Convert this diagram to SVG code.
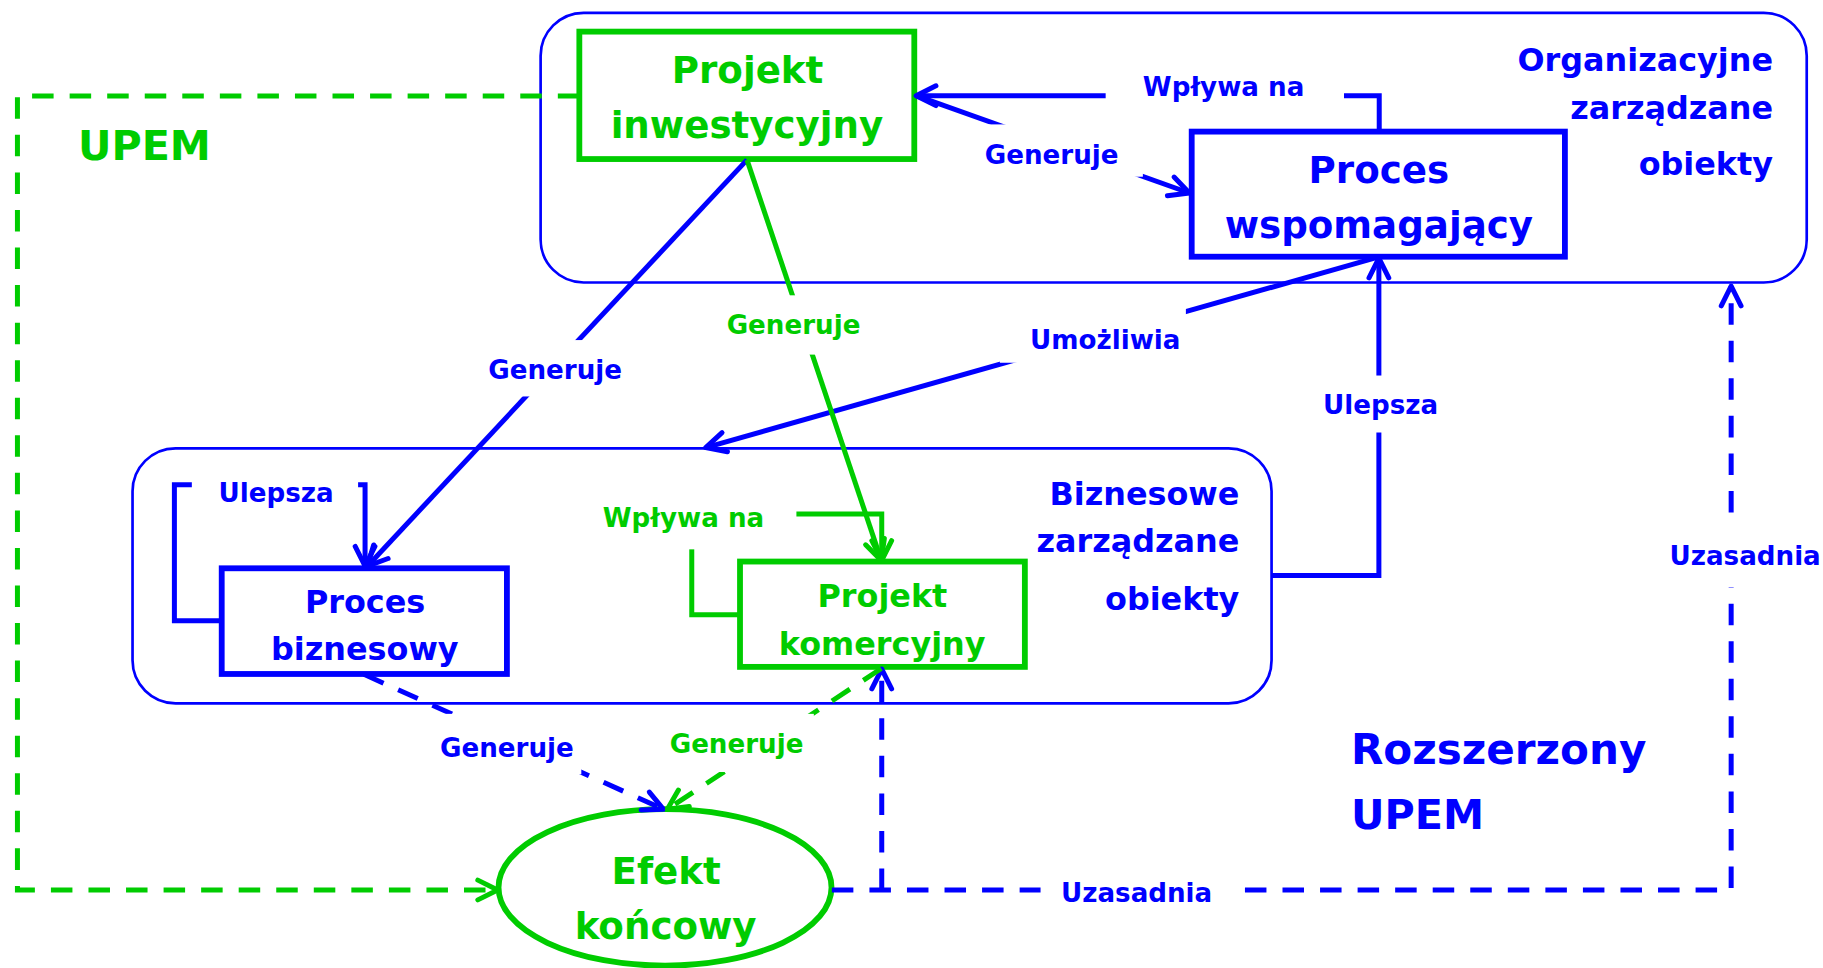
<svg xmlns="http://www.w3.org/2000/svg" width="1823" height="968" viewBox="0 0 1823 968">
<style>
text{font-family:"DejaVu Sans",Verdana,sans-serif;font-weight:bold}
.tb{fill:#0000FF}.tg{fill:#00CC00}
.big{font-size:32px}.mid{font-size:27.4px}.lab{font-size:22.5px}.ttl{font-size:35.5px}
.cont{fill:none;stroke:#0000FF;stroke-width:2.3}
.node{fill:#fff;stroke-width:5}
.b{stroke:#0000FF}.g{stroke:#00CC00}
.conn{fill:none;stroke-width:4.3}
.dash{stroke-dasharray:18.5 13.8}
.bg{fill:#fff}
</style>
<defs>
<marker id="ab" markerUnits="userSpaceOnUse" viewBox="-24 -13 28 26" refX="0" refY="0" markerWidth="28" markerHeight="26" orient="auto" overflow="visible">
<path d="M-17,-8.5 L0,0 L-17,8.5" fill="none" stroke="#0000FF" stroke-width="4.3" stroke-dasharray="none" stroke-linecap="round" stroke-linejoin="round"/>
</marker>
<marker id="ag" markerUnits="userSpaceOnUse" viewBox="-24 -13 28 26" refX="0" refY="0" markerWidth="28" markerHeight="26" orient="auto" overflow="visible">
<path d="M-17,-8.5 L0,0 L-17,8.5" fill="none" stroke="#00CC00" stroke-width="4.3" stroke-dasharray="none" stroke-linecap="round" stroke-linejoin="round"/>
</marker>
</defs>
<rect width="1823" height="968" fill="#fff"/>
<g transform="scale(1.16263)">
<g id="c-organizacyjne">
<rect class="cont" x="465" y="11" width="1089" height="232" rx="37" ry="37"/>
<text class="tb mid" text-anchor="end" x="1525" y="61">Organizacyjne</text>
<text class="tb mid" text-anchor="end" x="1525" y="102">zarządzane</text>
<text class="tb mid" text-anchor="end" x="1525" y="150.5">obiekty</text>
</g>
<g id="c-biznesowe">
<rect class="cont" x="114" y="385.6" width="979.7" height="219.4" rx="37" ry="37"/>
<text class="tb mid" text-anchor="end" x="1066" y="434">Biznesowe</text>
<text class="tb mid" text-anchor="end" x="1066" y="475">zarządzane</text>
<text class="tb mid" text-anchor="end" x="1066" y="525">obiekty</text>
</g>
<g id="t-upem">
<text class="tg ttl" x="67" y="137.5">UPEM</text>
</g>
<g id="t-rozszerzony-upem">
<text class="tb ttl" x="1162" y="657" style="font-size:36.2px">Rozszerzony</text>
<text class="tb ttl" x="1162" y="713">UPEM</text>
</g>
<g id="n-projekt-inwestycyjny">
<rect class="node g" x="498.3" y="27.2" width="288.1" height="109.6"/>
<text class="tg big" text-anchor="middle" x="643" y="71">Projekt</text>
<text class="tg big" text-anchor="middle" x="642.5" y="119">inwestycyjny</text>
</g>
<g id="n-proces-wspomagajacy">
<rect class="node b" x="1025" y="113.2" width="321" height="107.6"/>
<text class="tb big" text-anchor="middle" x="1186" y="157">Proces</text>
<text class="tb big" text-anchor="middle" x="1186" y="205">wspomagający</text>
</g>
<g id="n-proces-biznesowy">
<rect class="node b" x="190.7" y="488.8" width="245.3" height="90.9"/>
<text class="tb mid" text-anchor="middle" x="314" y="527.5">Proces</text>
<text class="tb mid" text-anchor="middle" x="313.8" y="568">biznesowy</text>
</g>
<g id="n-projekt-komercyjny">
<rect class="node g" x="636.5" y="483" width="245" height="90.6"/>
<text class="tg mid" text-anchor="middle" x="759" y="522.4">Projekt</text>
<text class="tg mid" text-anchor="middle" x="758.8" y="563">komercyjny</text>
</g>
<g id="n-efekt-koncowy">
<ellipse class="node g" cx="572" cy="763.3" rx="143.2" ry="67.3"/>
<text class="tg big" text-anchor="middle" x="573" y="760">Efekt</text>
<text class="tg big" text-anchor="middle" x="572.5" y="808">końcowy</text>
</g>
<g id="connectors">
<path class="conn b" d="M1186.3,113.2 V82.3 H788" marker-end="url(#ab)"/>
<path class="conn b" d="M788,82.3 L1023,166" marker-end="url(#ab)"/>
<path class="conn b" d="M642.5,137.5 L316,487" marker-end="url(#ab)"/>
<path class="conn b" d="M1186,221 L607,385" marker-end="url(#ab)"/>
<path class="conn b" d="M1093.7,495 H1186 V222" marker-end="url(#ab)"/>
<path class="conn b" d="M190.7,534 H150 V417 H314 V487" marker-end="url(#ab)"/>
<path class="conn g" d="M642.5,137.5 L758,482" marker-end="url(#ag)"/>
<path class="conn g" d="M636.5,528.7 H595 V442 H758.4 V482" marker-end="url(#ag)"/>
<path class="conn b dash" d="M313,580 L570.5,696" marker-end="url(#ab)"/>
<path class="conn b dash" d="M715.5,765.5 H1489 V246" marker-end="url(#ab)"/>
<path class="conn b dash" d="M758.4,765.5 V575.5" marker-end="url(#ab)"/>
<path class="conn g dash" d="M758,575 L574,696" marker-end="url(#ag)"/>
<path class="conn g dash" d="M498.3,82.5 H15 V765.5 H428" marker-end="url(#ag)"/>
<g id="connector-labels">
<rect class="bg" x="951" y="60" width="205" height="45"/>
<text class="tb lab" x="983" y="83">Wpływa na</text>
<rect class="bg" x="845" y="107" width="138" height="45"/>
<text class="tb lab" x="847" y="141">Generuje</text>
<rect class="bg" x="615" y="254" width="135" height="51"/>
<text class="tg lab" x="625" y="287">Generuje</text>
<rect class="bg" x="405" y="292.5" width="145" height="48.5"/>
<text class="tb lab" x="420" y="326">Generuje</text>
<rect class="bg" x="860" y="265" width="160" height="47"/>
<text class="tb lab" x="886" y="300">Umożliwia</text>
<rect class="bg" x="1130" y="323" width="115" height="49"/>
<text class="tb lab" x="1138" y="356">Ulepsza</text>
<rect class="bg" x="165" y="405" width="143" height="40"/>
<text class="tb lab" x="188" y="432">Ulepsza</text>
<rect class="bg" x="500" y="425" width="185" height="47.5"/>
<text class="tg lab" x="518.4" y="453.5">Wpływa na</text>
<rect class="bg" x="370" y="614" width="130" height="52"/>
<text class="tb lab" x="378.5" y="651">Generuje</text>
<rect class="bg" x="570" y="614" width="130" height="50"/>
<text class="tg lab" x="576" y="648">Generuje</text>
<rect class="bg" x="1430" y="447" width="140" height="58"/>
<text class="tb lab" x="1436" y="486">Uzasadnia</text>
<rect class="bg" x="895" y="745" width="170" height="45"/>
<text class="tb lab" x="912.6" y="776">Uzasadnia</text>
</g>
</g>
</g>
</svg>
